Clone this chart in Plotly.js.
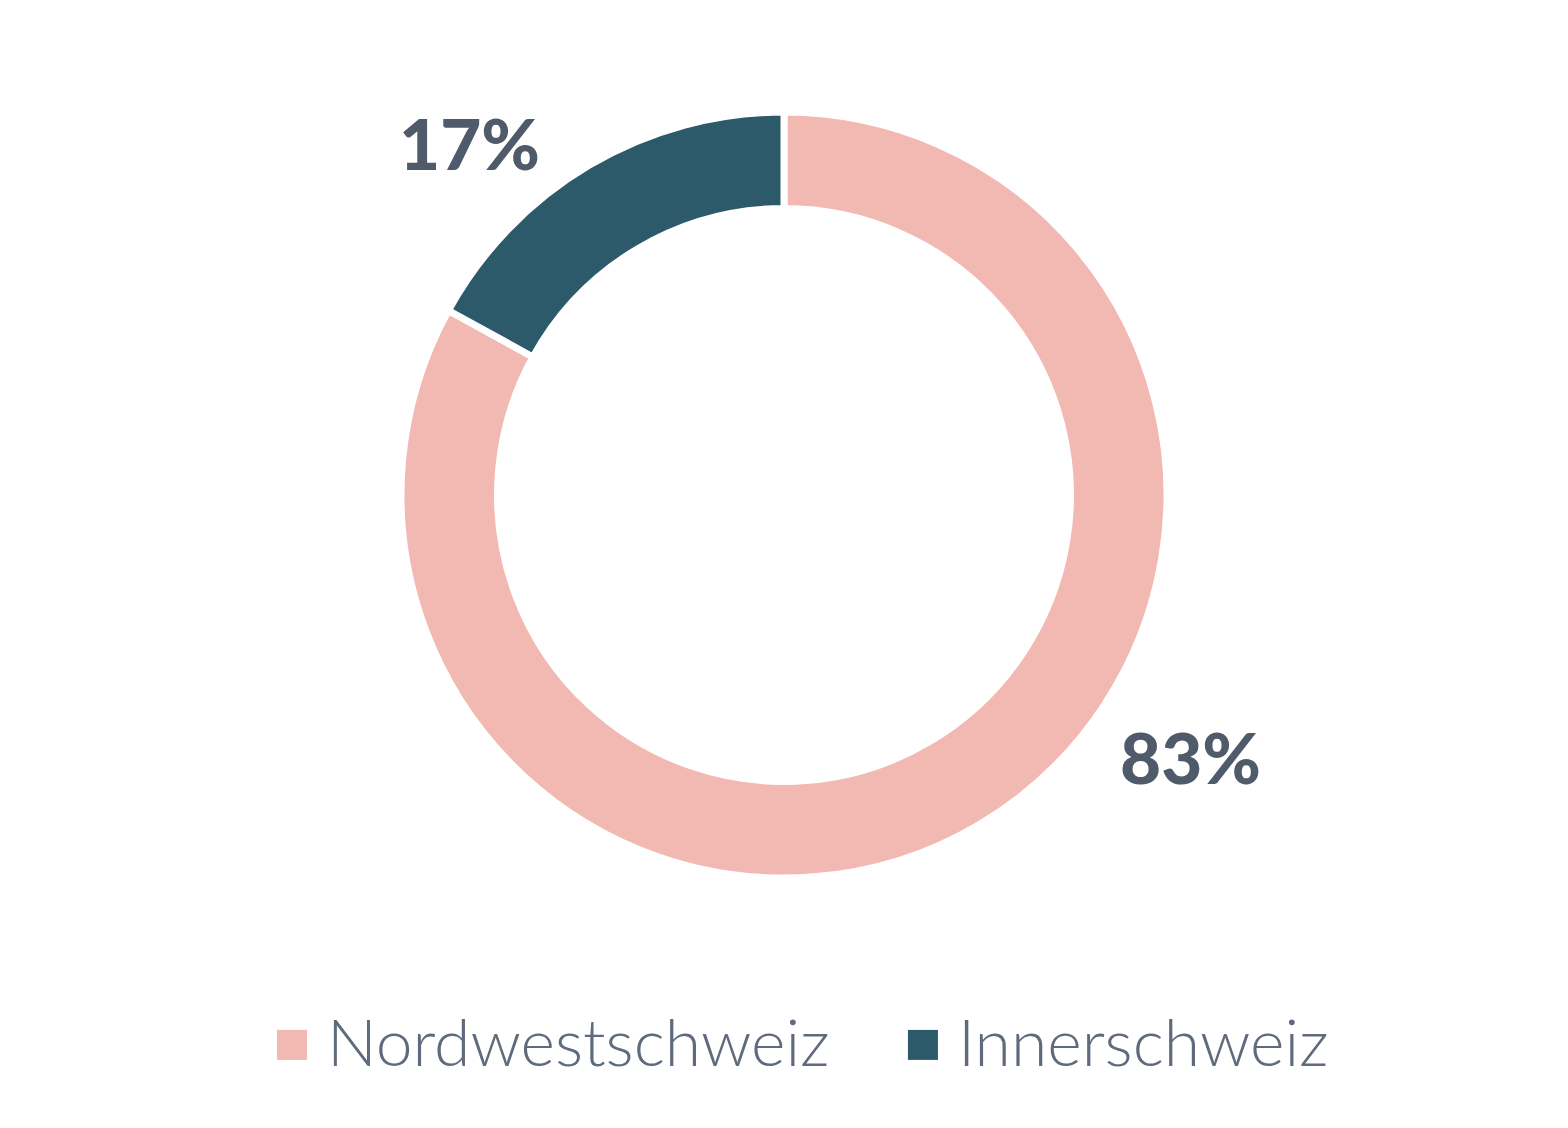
<!DOCTYPE html>
<html>
<head>
<meta charset="utf-8">
<script src="https://cdn.plot.ly/plotly-3.0.1.min.js"></script>
<style>html,body{margin:0;padding:0;background:#fff;}#chart{width:1568px;height:1128px;}</style>
</head>
<body>
<div id="chart"></div>
<script>
const categories = ["Nordwestschweiz", "Innerschweiz"];
const values = [83, 17];
const colors = ["#f2b8b2", "#2c5a6a"];
const labelPos = [[0.759, 0.158], [0.2997, 0.9605]];

const total = values.reduce((a, b) => a + b, 0);
const annotations = values.map((v, i) => ({
  text: Math.round(v / total * 100) + "%",
  xref: "paper", yref: "paper",
  x: labelPos[i][0], y: labelPos[i][1],
  xanchor: "center", yanchor: "middle",
  showarrow: false,
  font: {family: "Lato, 'Open Sans', sans-serif", size: 71, weight: 900, color: "#4f5a6b"}
}));

const data = [{
  type: "pie",
  labels: categories,
  values: values,
  hole: 0.748,
  sort: false,
  direction: "clockwise",
  rotation: 0,
  textinfo: "none",
  hoverinfo: "label+percent",
  marker: {colors: colors, line: {color: "#ffffff", width: 7}}
}];

const layout = {
  width: 1568, height: 1128,
  margin: {l: 0, r: 0, t: 112, b: 250},
  paper_bgcolor: "#ffffff",
  plot_bgcolor: "#ffffff",
  showlegend: true,
  legend: {
    orientation: "h",
    x: 0.183, xanchor: "left",
    yref: "container", y: 0.078, yanchor: "middle",
    font: {family: "Lato, 'Open Sans', sans-serif", size: 66, color: "#5f6b7d", weight: 300},
    itemwidth: 30,
    entrywidth: 586
  },
  annotations: annotations
};

Plotly.newPlot("chart", data, layout, {displayModeBar: false, staticPlot: true}).then(function (gd) {
  gd.querySelectorAll(".legend [clip-path]").forEach(function (e) {
    e.removeAttribute("clip-path");
  });
  gd.querySelectorAll(".legend .legendpoints path").forEach(function (p) {
    p.setAttribute("d", "M0,20H-30V-10H0Z");
    p.style.strokeWidth = "0";
  });
});
</script>
</body>
</html>
